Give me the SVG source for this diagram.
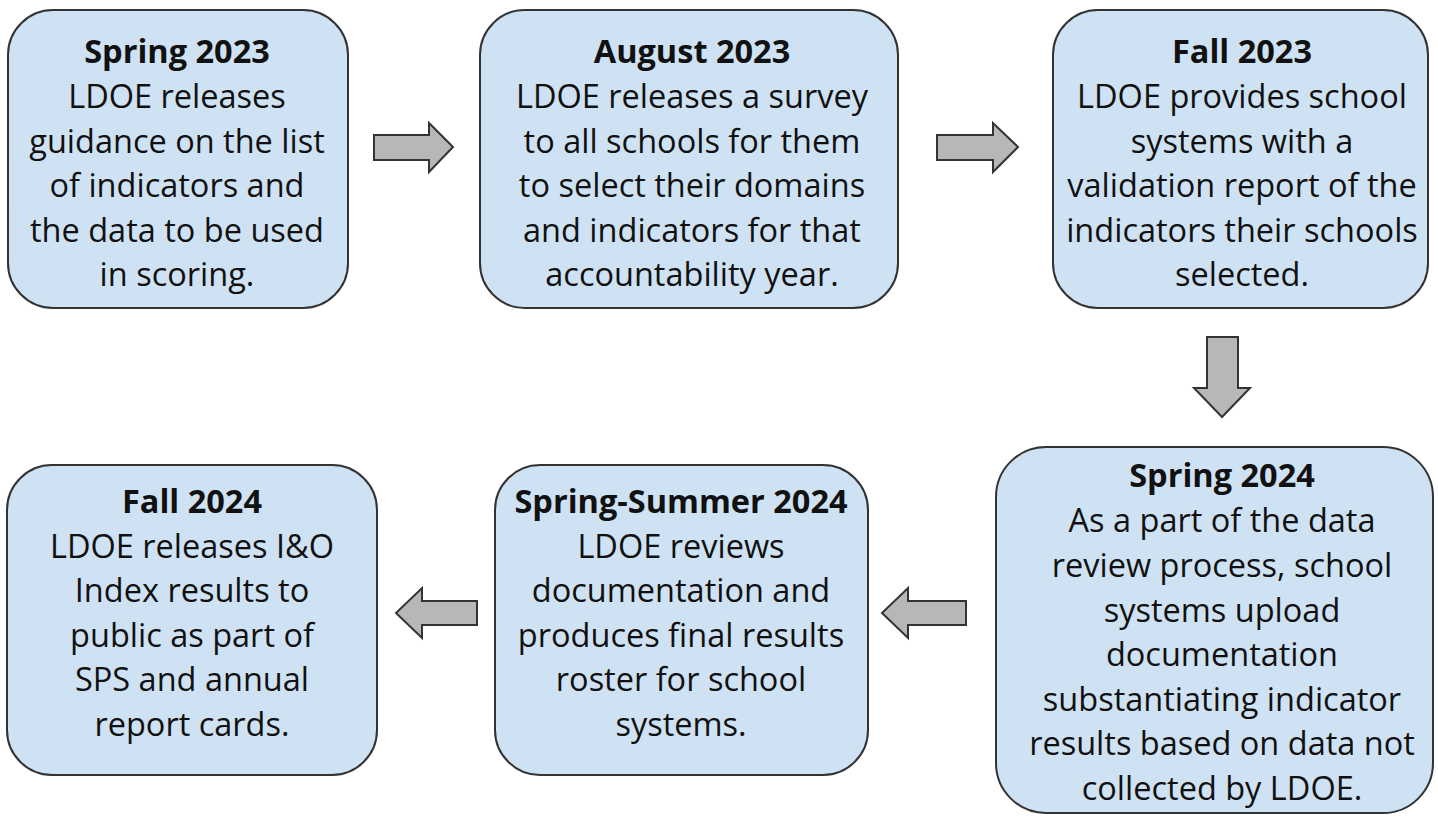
<svg xmlns="http://www.w3.org/2000/svg" width="1438" height="818" viewBox="0 0 1438 818">
<style>
.box{fill:#cfe2f3;stroke:#333;stroke-width:2}
.arr{fill:#b7b7b7;stroke:#333;stroke-width:2;stroke-linejoin:miter}
text{font-family:"Open Sans","Liberation Sans",sans-serif;font-size:32.5px;fill:#111;text-anchor:middle}
.t{font-weight:bold}
</style>
<rect width="1438" height="818" fill="#fff"/>
<g id="connectors">
<polygon class="arr" points="374,135 429,135 429,123 453,147 429,172 429,160 374,160"/>
<polygon class="arr" points="937,135 993,135 993,123 1018,147 993,172 993,160 937,160"/>
<polygon class="arr" points="1207,337 1238,337 1238,388 1250,388 1222,417 1194,388 1207,388"/>
<polygon class="arr" points="966,601 908,601 908,588 882,613 908,638 908,625 966,625"/>
<polygon class="arr" points="477,601 422,601 422,588 396,613 422,638 422,625 477,625"/>
</g>
<g id="n1">
<rect class="box" x="8" y="10" width="340" height="298" rx="45"/>
<text x="177" y="63" class="t">Spring 2023</text>
<text x="177" y="108">LDOE releases</text>
<text x="177" y="152.5">guidance on the list</text>
<text x="177" y="197">of indicators and</text>
<text x="177" y="241.5">the data to be used</text>
<text x="177" y="286">in scoring.</text>
</g>
<g id="n2">
<rect class="box" x="480" y="10" width="418" height="298" rx="45"/>
<text x="692" y="63" class="t">August 2023</text>
<text x="692" y="108">LDOE releases a survey</text>
<text x="692" y="152.5">to all schools for them</text>
<text x="692" y="197">to select their domains</text>
<text x="692" y="241.5">and indicators for that</text>
<text x="692" y="286">accountability year.</text>
</g>
<g id="n3">
<rect class="box" x="1053" y="10" width="375" height="298" rx="45"/>
<text x="1242" y="63" class="t">Fall 2023</text>
<text x="1242" y="108">LDOE provides school</text>
<text x="1242" y="152.5">systems with a</text>
<text x="1242" y="197">validation report of the</text>
<text x="1242" y="241.5">indicators their schools</text>
<text x="1242" y="286">selected.</text>
</g>
<g id="n4">
<rect class="box" x="996" y="447" width="437" height="366" rx="50"/>
<text x="1222" y="487" class="t">Spring 2024</text>
<text x="1222" y="532">As a part of the data</text>
<text x="1222" y="577">review process, school</text>
<text x="1222" y="621.5">systems upload</text>
<text x="1222" y="666">documentation</text>
<text x="1222" y="710.5">substantiating indicator</text>
<text x="1222" y="755">results based on data not</text>
<text x="1222" y="800">collected by LDOE.</text>
</g>
<g id="n5">
<rect class="box" x="495" y="465" width="373" height="310" rx="45"/>
<text x="681" y="513" class="t">Spring-Summer 2024</text>
<text x="681" y="557.5">LDOE reviews</text>
<text x="681" y="602">documentation and</text>
<text x="681" y="646.5">produces final results</text>
<text x="681" y="691">roster for school</text>
<text x="681" y="735.5">systems.</text>
</g>
<g id="n6">
<rect class="box" x="7" y="465" width="370" height="310" rx="45"/>
<text x="192" y="513" class="t">Fall 2024</text>
<text x="192" y="557.5">LDOE releases I&amp;O</text>
<text x="192" y="602">Index results to</text>
<text x="192" y="646.5">public as part of</text>
<text x="192" y="691">SPS and annual</text>
<text x="192" y="735.5">report cards.</text>
</g>
</svg>
